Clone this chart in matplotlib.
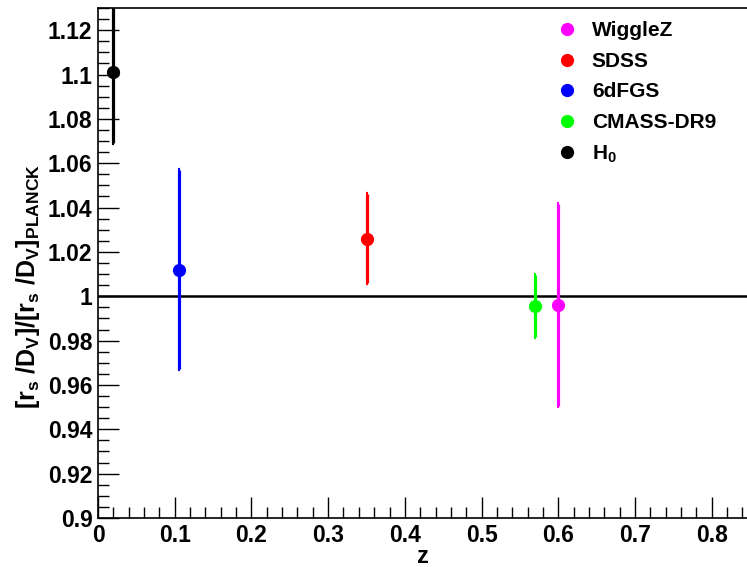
import matplotlib
matplotlib.use("Agg")
import matplotlib.pyplot as plt
from matplotlib.ticker import MultipleLocator, FixedFormatter, FixedLocator

plt.rcParams['font.family'] = ['Liberation Sans', 'DejaVu Sans']
plt.rcParams['font.weight'] = 'bold'
plt.rcParams['mathtext.fontset'] = 'custom'
plt.rcParams['mathtext.rm'] = 'Liberation Sans:bold'
plt.rcParams['mathtext.it'] = 'Liberation Sans:bold'
plt.rcParams['mathtext.bf'] = 'Liberation Sans:bold'

# BAO measurements relative to Planck
surveys = ['WiggleZ', 'SDSS', '6dFGS', 'CMASS-DR9', '$H_0$']
z = [0.60, 0.35, 0.106, 0.57, 0.02]
ratio = [0.996, 1.026, 1.012, 0.9955, 1.101]
err = [0.0455, 0.020, 0.045, 0.014, 0.032]
colors = ['#ff00ff', '#ff0000', '#0000ff', '#00ff00', '#000000']

x_ticks = [0, 0.1, 0.2, 0.3, 0.4, 0.5, 0.6, 0.7, 0.8]
x_labels = ['0', '0.1', '0.2', '0.3', '0.4', '0.5', '0.6', '0.7', '0.8']
y_ticks = [0.9, 0.92, 0.94, 0.96, 0.98, 1.0, 1.02, 1.04, 1.06, 1.08, 1.1, 1.12]
y_labels = ['0.9', '0.92', '0.94', '0.96', '0.98', '1', '1.02', '1.04', '1.06', '1.08', '1.1', '1.12']

fig = plt.figure(figsize=(7.47, 5.67), dpi=100)
ax = fig.add_axes([0.1312, 0.0864, 0.8688, 0.8995])

ax.axhline(1.0, color='black', lw=1.8, zorder=1)

for name, xx, yy, ee, c in zip(surveys, z, ratio, err, colors):
    ax.errorbar([xx], [yy], yerr=[ee], fmt='o', color=c, ms=8.5, elinewidth=2.3,
                capsize=1.0, capthick=3, label=name, zorder=3)

ax.set_xlim(0, 0.846)
ax.set_ylim(0.9, 1.13)

ax.xaxis.set_major_locator(FixedLocator(x_ticks))
ax.xaxis.set_major_formatter(FixedFormatter(x_labels))
ax.xaxis.set_minor_locator(MultipleLocator(0.02))
ax.yaxis.set_major_locator(FixedLocator(y_ticks))
ax.yaxis.set_major_formatter(FixedFormatter(y_labels))
ax.yaxis.set_minor_locator(MultipleLocator(0.005))

ax.tick_params(which='both', direction='in', top=False, right=False, width=1)
ax.tick_params(which='major', length=15, labelsize=16.5, pad=4)
ax.tick_params(which='minor', length=8)
for lab in ax.get_xticklabels() + ax.get_yticklabels():
    lab.set_fontweight('bold')

ax.spines['right'].set_visible(False)
for s in ['left', 'bottom', 'top']:
    ax.spines[s].set_linewidth(1.2)

ax.set_xlabel('z', fontsize=17, fontweight='bold', labelpad=-1)
fig.text(0.038, 0.495, r'$[r_s\ /D_V]/[r_s\ /D_V]_{PLANCK}$', rotation=90,
         fontsize=18, ha='center', va='center')

handles, labels = ax.get_legend_handles_labels()
handles = [h[0] for h in handles]
leg = ax.legend(handles, labels, loc='upper left', bbox_to_anchor=(0.7, 0.99),
                frameon=False, fontsize=15, handlelength=0.6, handletextpad=0.9,
                labelspacing=0.55, borderaxespad=0)
for t in leg.get_texts():
    t.set_fontweight('bold')

fig.savefig('out.png', dpi=100)
